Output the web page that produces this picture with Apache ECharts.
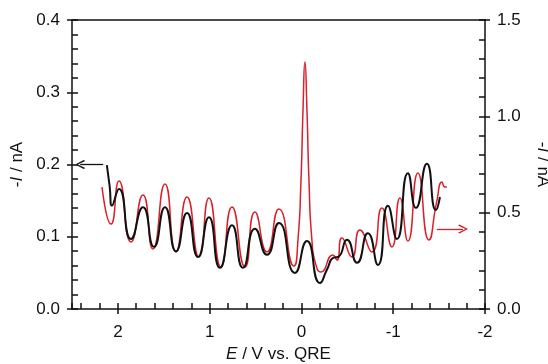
<!DOCTYPE html>
<html>
<head>
<meta charset="utf-8">
<script src="https://cdn.jsdelivr.net/npm/echarts@6/dist/echarts.min.js"></script>
<style>
html, body { margin: 0; padding: 0; background: #fff; }
#chart { width: 548px; height: 364px; }
</style>
</head>
<body>
<div id="chart"></div>
<script>
// black trace (left axis, -I / nA)
var blackE = [2.12, 2.09, 2.064, 1.988, 1.857, 1.727, 1.607, 1.487, 1.367, 1.247, 1.127, 1.008, 0.888, 0.757,
  0.637, 0.507, 0.376, 0.245, 0.071, -0.06, -0.202, -0.28, -0.35, -0.4, -0.496, -0.605, -0.724, -0.833,
  -0.942, -1.04, -1.16, -1.247, -1.367, -1.465, -1.509];
var blackI = [0.199, 0.17, 0.143, 0.166, 0.097, 0.141, 0.086, 0.141, 0.080, 0.133, 0.072, 0.127, 0.057, 0.116,
  0.057, 0.111, 0.075, 0.119, 0.050, 0.094, 0.036, 0.055, 0.071, 0.072, 0.096, 0.064, 0.105, 0.061,
  0.143, 0.097, 0.188, 0.140, 0.201, 0.137, 0.155];

// red trace (right axis, -I / nA)
var redE = [2.173, 2.075, 1.988, 1.857, 1.727, 1.618, 1.487, 1.367, 1.247, 1.117, 1.008, 0.877, 0.757, 0.615,
  0.507, 0.376, 0.245, 0.082, 0.038, 0.005, -0.017, -0.038, -0.06, -0.082, -0.114, -0.158, -0.212,
  -0.343, -0.387, -0.441, -0.55, -0.637, -0.768, -0.877, -0.986, -1.073, -1.16, -1.269, -1.389,
  -1.475, -1.531, -1.563, -1.585];
var redI = [0.633, 0.441, 0.664, 0.348, 0.592, 0.311, 0.649, 0.296, 0.581, 0.270, 0.576, 0.218, 0.529, 0.218,
  0.503, 0.296, 0.519, 0.223, 0.358, 0.669, 1.033, 1.282, 1.033, 0.669, 0.358, 0.228, 0.192,
  0.280, 0.254, 0.368, 0.270, 0.410, 0.296, 0.524, 0.322, 0.576, 0.353, 0.706, 0.358,
  0.560, 0.659, 0.633, 0.633];

// arrows: [tail, head] in data units
var blackArrowE = [2.16, 2.41];
var blackArrowI = 0.2;
var redArrowE = [-1.475, -1.76];
var redArrowI = 0.415;

var ink = '#111';
var red = '#d9202a';
var font = '"Liberation Sans", Arial, sans-serif';
var chevron = 'path://M5,0 L10,8 L9,9.5 L5,2.5 L1,9.5 L0,8 Z';

function pairs(xs, ys) {
  return xs.map(function (x, i) { return [x, ys[i]]; });
}

function minorAxis(pos, interval, max, inverse) {
  return {
    type: 'value', position: pos, min: pos === 'left' || pos === 'right' ? 0 : -2, max: max,
    interval: interval, inverse: !!inverse,
    axisLine: { show: false, onZero: false },
    axisTick: { show: true, inside: true, length: 6, lineStyle: { color: ink, width: 1.5 } },
    axisLabel: { show: false }, splitLine: { show: false }
  };
}

var nameStyle = {
  fontFamily: font, fontSize: 17, color: ink,
  rich: { i: { fontStyle: 'italic', fontFamily: font, fontSize: 17, color: ink } }
};

var myChart = echarts.init(document.getElementById('chart'));
myChart.setOption({
  animation: false,
  backgroundColor: '#fff',
  grid: { left: 72, right: 63, top: 20, bottom: 55, outerBoundsMode: 'none', containLabel: false },
  xAxis: [
    {
      type: 'value', position: 'bottom', min: -2, max: 2.5, interval: 1, inverse: true,
      name: '{i|E} / V vs. QRE', nameLocation: 'middle', nameGap: 37, nameTextStyle: nameStyle,
      axisLine: { onZero: false, lineStyle: { color: ink, width: 1.5 } },
      axisTick: { inside: false, length: 5, lineStyle: { color: ink, width: 1.5 } },
      axisLabel: { fontFamily: font, fontSize: 17, color: ink, margin: 15, showMaxLabel: false },
      splitLine: { show: false }
    },
    minorAxis('bottom', 0.2, 2.5, true),
    {
      type: 'value', position: 'top', min: -2, max: 2.5, inverse: true,
      axisLine: { onZero: false, lineStyle: { color: ink, width: 1.5 } },
      axisTick: { show: false }, axisLabel: { show: false }, splitLine: { show: false }
    }
  ],
  yAxis: [
    {
      type: 'value', position: 'left', min: 0, max: 0.4, interval: 0.1,
      name: '-{i|I} / nA', nameLocation: 'middle', nameGap: 44, nameTextStyle: nameStyle,
      axisLine: { onZero: false, lineStyle: { color: ink, width: 1.5 } },
      axisTick: { inside: false, length: 5, lineStyle: { color: ink, width: 1.5 } },
      axisLabel: { fontFamily: font, fontSize: 17, color: ink, margin: 12, formatter: function (v) { return v.toFixed(1); } },
      splitLine: { show: false }
    },
    {
      type: 'value', position: 'right', min: 0, max: 1.5, interval: 0.5,
      name: '-{i|I} / nA', nameLocation: 'middle', nameGap: 49, nameRotate: -90, nameTextStyle: nameStyle,
      axisLine: { onZero: false, lineStyle: { color: ink, width: 1.5 } },
      axisTick: { inside: false, length: 5, lineStyle: { color: ink, width: 1.5 } },
      axisLabel: { fontFamily: font, fontSize: 17, color: ink, margin: 12, formatter: function (v) { return v.toFixed(1); } },
      splitLine: { show: false }
    },
    minorAxis('left', 0.02, 0.4),
    minorAxis('right', 0.1, 1.5)
  ],
  series: [
    {
      type: 'line', xAxisIndex: 0, yAxisIndex: 1, data: pairs(redE, redI),
      showSymbol: false, smooth: 0.6, lineStyle: { color: red, width: 1.5 },
      markLine: {
        silent: true, symbol: ['none', chevron], symbolSize: [9, 10],
        label: { show: false }, lineStyle: { color: red, width: 1.3, type: 'solid' },
        data: [[{ coord: [redArrowE[0], redArrowI] }, { coord: [redArrowE[1], redArrowI] }]]
      }
    },
    {
      type: 'line', xAxisIndex: 0, yAxisIndex: 0, data: pairs(blackE, blackI),
      showSymbol: false, smooth: 0.6, lineStyle: { color: ink, width: 2 },
      markLine: {
        silent: true, symbol: ['none', chevron], symbolSize: [9, 10],
        label: { show: false }, lineStyle: { color: ink, width: 1.3, type: 'solid' },
        data: [[{ coord: [blackArrowE[0], blackArrowI] }, { coord: [blackArrowE[1], blackArrowI] }]]
      }
    }
  ]
});
</script>
</body>
</html>
